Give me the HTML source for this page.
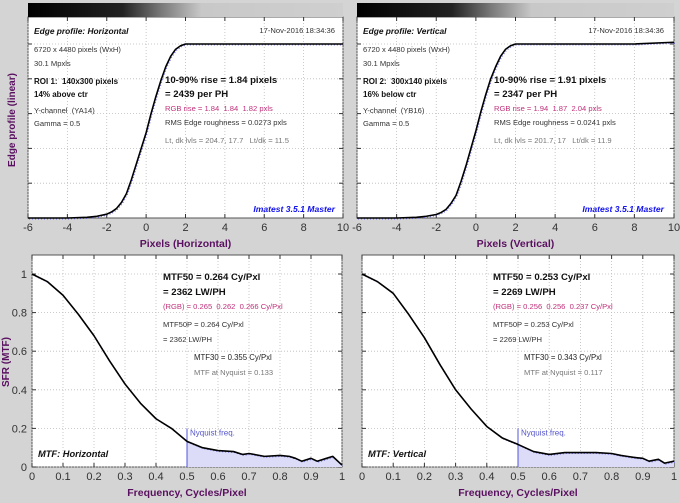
<!DOCTYPE html>
<html><head><meta charset="utf-8"><style>
body{margin:0;background:#d4d4d4;}
svg{display:block;font-family:"Liberation Sans",sans-serif;}
text{white-space:pre;}
</style></head><body>
<svg id="c" width="680" height="503" viewBox="0 0 680 503" xmlns="http://www.w3.org/2000/svg">
<defs>
<linearGradient id="gbar" x1="0" x2="1" y1="0" y2="0">
<stop offset="0" stop-color="#000"/><stop offset="0.3" stop-color="#222"/><stop offset="0.42" stop-color="#777"/><stop offset="0.55" stop-color="#c8c8c8"/><stop offset="1" stop-color="#cfcfcf"/>
</linearGradient>
</defs>
<rect width="680" height="503" fill="#d4d4d4"/>
<g id="root"></g>
</svg>
<script>
const edgeX=[-6,-4,-3,-2.5,-2,-1.75,-1.5,-1.25,-1,-0.75,-0.5,-0.25,0,0.25,0.5,0.75,1,1.25,1.5,1.75,2,2.5,3,4,6,8,10];
const edgeH=[0,0,0.004,0.01,0.022,0.035,0.055,0.09,0.14,0.22,0.31,0.4,0.49,0.6,0.7,0.79,0.87,0.93,0.97,0.99,1,1,1,1,1,1,1];
const edgeV=[0,0,0.004,0.01,0.02,0.032,0.05,0.085,0.13,0.21,0.3,0.4,0.5,0.61,0.71,0.8,0.87,0.93,0.97,0.99,1,1,1,1,1,1,1.01];
const edgeXTicks=[-6,-4,-2,0,2,4,6,8,10];
const freqs=[0,0.05,0.1,0.15,0.2,0.25,0.3,0.35,0.4,0.45,0.5,0.55,0.6,0.65,0.68,0.7,0.75,0.8,0.83,0.85,0.87,0.9,0.92,0.95,0.97,1];
const mtfH=[1,0.96,0.89,0.79,0.68,0.55,0.43,0.33,0.25,0.2,0.133,0.1,0.085,0.08,0.065,0.07,0.055,0.06,0.055,0.045,0.03,0.045,0.03,0.045,0.055,0.01];
const mtfV=[1,0.96,0.9,0.79,0.67,0.53,0.4,0.3,0.21,0.15,0.117,0.08,0.065,0.075,0.075,0.075,0.075,0.07,0.06,0.055,0.05,0.045,0.03,0.04,0.02,0.03];
const freqTicks=[0,0.1,0.2,0.3,0.4,0.5,0.6,0.7,0.8,0.9,1];
const mtfYTicks=[0,0.2,0.4,0.6,0.8,1];
const nyq=0.5;

const NS="http://www.w3.org/2000/svg";
const root=document.getElementById('root');
function el(tag,attrs,parent){const e=document.createElementNS(NS,tag);for(const k in attrs)e.setAttribute(k,attrs[k]);(parent||root).appendChild(e);return e;}
function txt(x,y,s,style,parent,anchor){const t=el('text',{x:x,y:y,'font-size':style.size||10,fill:style.fill||'#222','font-weight':style.bold?'bold':'normal','font-style':style.italic?'italic':'normal','text-anchor':anchor||'start'},parent);t.textContent=s;return t;}

function panel(o){
  const g=el('g',{});
  
  
  const sx=v=>o.x0+(v-o.xmin)/(o.xmax-o.xmin)*(o.x1-o.x0);
  const sy=v=>o.yb-(v/o.yunit)*(o.yb-o.y1v);
  const bg=el('rect',{x:o.x0,y:o.top,width:o.x1-o.x0,height:o.yb-o.top,fill:'#fff',stroke:'#555','stroke-width':1},g);
  
  
  if(o.bar){const b=el('rect',{x:o.x0,y:3,width:o.x1-o.x0,height:o.top-3,fill:'url(#gbar)'},g);
    
    }
  o.xt.forEach(v=>{const x=sx(v);
    el('line',{x1:x,x2:x,y1:o.top,y2:o.yb,stroke:'#bbb','stroke-dasharray':'1,2','stroke-width':0.8},g);
    el('line',{x1:x,x2:x,y1:o.yb,y2:o.yb-4,stroke:'#333'},g);
    el('line',{x1:x,x2:x,y1:o.top,y2:o.top+4,stroke:'#333'},g);
    const t=txt(x,o.yb+13,String(v),{size:11,fill:'#333'},g,'middle');
    
    });
  o.yt.forEach(v=>{const y=sy(v);
    el('line',{x1:o.x0,x2:o.x1,y1:y,y2:y,stroke:'#bbb','stroke-dasharray':'1,2','stroke-width':0.8},g);
    el('line',{x1:o.x0,x2:o.x0+4,y1:y,y2:y,stroke:'#333'},g);
    el('line',{x1:o.x1,x2:o.x1-4,y1:y,y2:y,stroke:'#333'},g);
    if(o.ylabels){const t=txt(o.x0-5,y+4,String(v),{size:11,fill:'#333'},g,'end');
      
      }});
  if(o.shade){
    let d='M'+sx(nyq)+','+sy(0);
    o.xs.forEach((v,i)=>{if(v>=nyq)d+=' L'+sx(v)+','+sy(o.ys[i]);});
    d+=' L'+sx(o.xs[o.xs.length-1])+','+sy(0)+'Z';
    const s=el('path',{d:d,fill:'#dcdcf8'},g);
    
    
    const n=el('line',{x1:sx(nyq),x2:sx(nyq),y1:sy(0),y2:sy(0.2),stroke:'#5555dd','stroke-width':1},g);
    
    
    const nt=txt(sx(nyq)+3,sy(0.2)+7,'Nyquist freq.',{size:8,fill:'#5555cc'},g);
    
    
  }
  const pts=o.xs.map((v,i)=>sx(v)+','+sy(o.ys[i])).join(' ');
  const b2=el('polyline',{points:o.xs.map((v,i)=>(sx(v)+1)+','+(sy(o.ys[i])+1)).join(' '),fill:'none',stroke:'#6666ee','stroke-width':1,'stroke-dasharray':'1,2'},g);
  
  
  const c=el('polyline',{points:pts,fill:'none',stroke:'#000','stroke-width':1.6,'stroke-linejoin':'round'},g);
  
  
  const xl=txt((o.x0+o.x1)/2,o.yb+29,o.xlabel,{size:10.5,bold:true,fill:'#5a1060'},g,'middle');
  
  
  o.texts.forEach(t=>{const e=txt(t[0],t[1],t[2],t[3],g,t[4]);
    
    });
}
const B={bold:true,size:8,fill:'#111'},N={size:7.6,fill:'#333'},M={size:7.6,fill:'#c0307a'},G={size:7.6,fill:'#777'},BL={bold:true,size:9.6,fill:'#111'};
function topTexts(dx,title,roi,pos,ch,rise,ph,rgb,rms,lt){return [
 [34+dx,34,title,{bold:true,italic:true,size:8.4,fill:'#111'},'start','panel-title'],
 [335+dx,33,'17-Nov-2016 18:34:36',N,'end','timestamp'],
 [34+dx,52,'6720 x 4480 pixels (WxH)',N,'start','image-size'],
 [34+dx,66,'30.1 Mpxls',N,'start','megapixels'],
 [34+dx,84,roi,B,'start','roi-size'],
 [34+dx,97,pos,B,'start','roi-position'],
 [34+dx,113,ch,N,'start','channel'],
 [34+dx,126,'Gamma = 0.5',N,'start','gamma'],
 [165+dx,83,rise,BL,'start','rise-value'],
 [165+dx,97,ph,BL,'start','rise-per-ph'],
 [165+dx,111,rgb,M,'start','rgb-rise'],
 [165+dx,125,rms,N,'start','edge-roughness'],
 [165+dx,143,lt,G,'start','light-dark-levels'],
 [335+dx,212,'Imatest 3.5.1 Master',{bold:true,italic:true,size:8.6,fill:'#1010ee'},'end','imatest-version']];}
panel({name:'edge-profile-horizontal',x0:28,x1:343,top:17,yb:218,y1v:44,yunit:1,xmin:-6,xmax:10,xt:edgeXTicks,yt:[0.2,0.4,0.6,0.8,1],bar:true,xs:edgeX,ys:edgeH,xlabel:'Pixels (Horizontal)',
 texts:topTexts(0,'Edge profile: Horizontal','ROI 1:  140x300 pixels','14% above ctr','Y-channel  (YA14)','10-90% rise = 1.84 pixels','= 2439 per PH','RGB rise = 1.84  1.84  1.82 pxls','RMS Edge roughness = 0.0273 pxls','Lt, dk lvls = 204.7, 17.7   Lt/dk = 11.5')});
panel({name:'edge-profile-vertical',x0:357,x1:674,top:17,yb:218,y1v:44,yunit:1,xmin:-6,xmax:10,xt:edgeXTicks,yt:[0.2,0.4,0.6,0.8,1],bar:true,xs:edgeX,ys:edgeV,xlabel:'Pixels (Vertical)',
 texts:topTexts(329,'Edge profile: Vertical','ROI 2:  300x140 pixels','16% below ctr','Y-channel  (YB16)','10-90% rise = 1.91 pixels','= 2347 per PH','RGB rise = 1.94  1.87  2.04 pxls','RMS Edge roughness = 0.0241 pxls','Lt, dk lvls = 201.7, 17   Lt/dk = 11.9')});
function botTexts(dx,a,b,rgb,c,d,e,f,title){return [
 [163+dx,280,a,BL,'start','mtf50'],
 [163+dx,295,b,BL,'start','mtf50-lwph'],
 [163+dx,309,rgb,M,'start','rgb-mtf50'],
 [163+dx,327,c,N,'start','mtf50p'],
 [163+dx,342,d,N,'start','mtf50p-lwph'],
 [194+dx,360,e,{size:7.8,fill:'#222'},'start','mtf30'],
 [194+dx,375,f,G,'start','mtf-at-nyquist'],
 [38+dx,457,title,{bold:true,italic:true,size:9.3,fill:'#111'},'start','panel-title']];}
panel({name:'mtf-horizontal',x0:32,x1:342,top:255,yb:467,y1v:274,yunit:1,xmin:0,xmax:1,xt:freqTicks,yt:mtfYTicks,ylabels:true,shade:true,xs:freqs,ys:mtfH,xlabel:'Frequency, Cycles/Pixel',
 texts:botTexts(0,'MTF50 = 0.264 Cy/Pxl','= 2362 LW/PH','(RGB) = 0.265  0.262  0.266 Cy/Pxl','MTF50P = 0.264 Cy/Pxl','= 2362 LW/PH','MTF30 = 0.355 Cy/Pxl','MTF at Nyquist = 0.133','MTF: Horizontal')});
panel({name:'mtf-vertical',x0:362,x1:674,top:255,yb:467,y1v:274,yunit:1,xmin:0,xmax:1,xt:freqTicks,yt:mtfYTicks,shade:true,xs:freqs,ys:mtfV,xlabel:'Frequency, Cycles/Pixel',
 texts:botTexts(330,'MTF50 = 0.253 Cy/Pxl','= 2269 LW/PH','(RGB) = 0.256  0.256  0.237 Cy/Pxl','MTF50P = 0.253 Cy/Pxl','= 2269 LW/PH','MTF30 = 0.343 Cy/Pxl','MTF at Nyquist = 0.117','MTF: Vertical')});
const y1=txt(0,0,'Edge profile (linear)',{bold:true,size:10,fill:'#5a1060'},root,'middle');
y1.setAttribute('transform','translate(15,120) rotate(-90)');


const y2=txt(0,0,'SFR (MTF)',{bold:true,size:10,fill:'#5a1060'},root,'middle');
y2.setAttribute('transform','translate(9,362) rotate(-90)');


</script>
</body></html>
